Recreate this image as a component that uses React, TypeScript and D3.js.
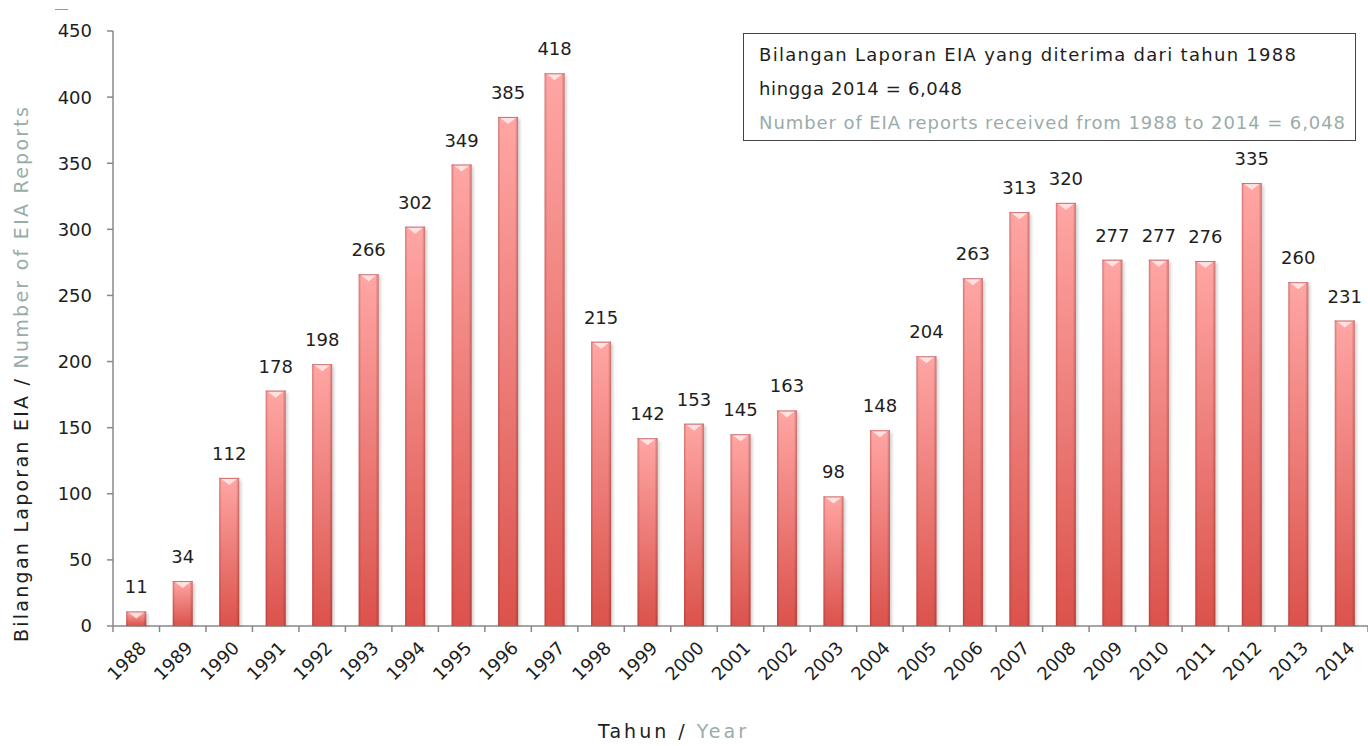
import React, { useEffect, useRef } from "react";
import * as d3 from "d3";

const years = [
  "1988", "1989", "1990", "1991", "1992", "1993", "1994", "1995", "1996",
  "1997", "1998", "1999", "2000", "2001", "2002", "2003", "2004", "2005",
  "2006", "2007", "2008", "2009", "2010", "2011", "2012", "2013", "2014",
];
const reports = [
  11, 34, 112, 178, 198, 266, 302, 349, 385, 418, 215, 142, 153, 145, 163,
  98, 148, 204, 263, 313, 320, 277, 277, 276, 335, 260, 231,
];
const yTicks = [0, 50, 100, 150, 200, 250, 300, 350, 400, 450];

const FONT = "'DejaVu Sans', sans-serif";
const INK = "#1e1e1e";
const GREY = "#9aaca8";

function App() {
  const ref = useRef<SVGSVGElement>(null);

  useEffect(() => {
    const svg = d3.select(ref.current);
    svg.selectAll("*").remove();

    const left = 113;
    const right = 1368;
    const top = 31;
    const bottom = 626;

    const x = d3
      .scaleBand()
      .domain(years)
      .range([left, right])
      .paddingInner(0.57)
      .paddingOuter(0.285);
    const y = d3.scaleLinear().domain([0, 450]).range([bottom, top]);
    const step = x.step();

    const defs = svg.append("defs");
    const grad = defs
      .append("linearGradient")
      .attr("id", "barFill")
      .attr("x1", 0)
      .attr("y1", 0)
      .attr("x2", 0)
      .attr("y2", 1);
    grad.append("stop").attr("offset", "0%").attr("stop-color", "#ffa6a4");
    grad.append("stop").attr("offset", "100%").attr("stop-color", "#db524b");

    const edge = defs
      .append("linearGradient")
      .attr("id", "barEdge")
      .attr("x1", 0)
      .attr("y1", 0)
      .attr("x2", 1)
      .attr("y2", 0);
    edge.append("stop").attr("offset", "0%").attr("stop-color", "#7a1f1c").attr("stop-opacity", 0.35);
    edge.append("stop").attr("offset", "12%").attr("stop-color", "#7a1f1c").attr("stop-opacity", 0);
    edge.append("stop").attr("offset", "85%").attr("stop-color", "#7a1f1c").attr("stop-opacity", 0);
    edge.append("stop").attr("offset", "100%").attr("stop-color", "#7a1f1c").attr("stop-opacity", 0.4);

    const blur = defs.append("filter").attr("id", "shadow").attr("x", "-50%").attr("width", "200%");
    blur.append("feGaussianBlur").attr("stdDeviation", 1.5);

    const txt = (sel: any, size: number) =>
      sel
        .attr("font-size", size)
        .attr("font-family", FONT)
        .attr("fill", INK);

    // little mark top-left
    svg
      .append("line")
      .attr("x1", 55)
      .attr("x2", 68)
      .attr("y1", 9.5)
      .attr("y2", 9.5)
      .attr("stroke", "#999")
      .attr("stroke-width", 1);

    // y axis
    const yAxis = svg.append("g");
    yAxis
      .append("line")
      .attr("x1", left)
      .attr("x2", left)
      .attr("y1", top)
      .attr("y2", bottom)
      .attr("stroke", "#888")
      .attr("stroke-width", 1.5);
    yTicks.forEach((t) => {
      yAxis
        .append("line")
        .attr("x1", left - 6)
        .attr("x2", left)
        .attr("y1", y(t))
        .attr("y2", y(t))
        .attr("stroke", "#888")
        .attr("stroke-width", 1.5);
      txt(
        yAxis
          .append("text")
          .attr("x", left - 21)
          .attr("y", y(t))
          .attr("dy", "0.36em")
          .attr("text-anchor", "end"),
        18
      ).text(t);
    });

    // x axis
    const xAxis = svg.append("g");
    xAxis
      .append("line")
      .attr("x1", left)
      .attr("x2", right)
      .attr("y1", bottom)
      .attr("y2", bottom)
      .attr("stroke", "#888")
      .attr("stroke-width", 1.5);
    d3.range(years.length + 1).forEach((i) => {
      const tx = left + i * step;
      xAxis
        .append("line")
        .attr("x1", tx)
        .attr("x2", tx)
        .attr("y1", bottom)
        .attr("y2", bottom + 6)
        .attr("stroke", "#888")
        .attr("stroke-width", 1.5);
    });
    years.forEach((yr) => {
      const cx = (x(yr) as number) + x.bandwidth() / 2 + 2;
      txt(
        xAxis
          .append("text")
          .attr("transform", `translate(${cx},${bottom + 14}) rotate(-45)`)
          .attr("text-anchor", "end")
          .attr("dy", "0.72em"),
        18
      ).text(yr);
    });

    // bars
    const bars = svg.append("g");
    years.forEach((yr, i) => {
      const bx = x(yr) as number;
      const bw = x.bandwidth();
      const by = y(reports[i]);
      const bh = bottom - by;
      bars
        .append("rect")
        .attr("x", bx + 2)
        .attr("y", by + 2)
        .attr("width", bw)
        .attr("height", bh - 2)
        .attr("fill", "#000")
        .attr("opacity", 0.18)
        .attr("filter", "url(#shadow)");
      bars
        .append("rect")
        .attr("x", bx)
        .attr("y", by)
        .attr("width", bw)
        .attr("height", bh)
        .attr("fill", "url(#barFill)");
      bars
        .append("rect")
        .attr("x", bx)
        .attr("y", by)
        .attr("width", bw)
        .attr("height", bh)
        .attr("fill", "url(#barEdge)");
      // bevel highlight on top
      const bev = Math.min(5, bh / 2);
      bars
        .append("path")
        .attr(
          "d",
          `M${bx + 1},${by} L${bx + bw - 1},${by} L${bx + bw / 2},${by + bev + 2} Z`
        )
        .attr("fill", "#ffe8e6")
        .attr("opacity", 0.9);
      bars
        .append("line")
        .attr("x1", bx)
        .attr("x2", bx + bw)
        .attr("y1", by + 0.5)
        .attr("y2", by + 0.5)
        .attr("stroke", "#c97070")
        .attr("stroke-width", 1);
      txt(
        bars
          .append("text")
          .attr("x", bx + bw / 2)
          .attr("y", by - 18)
          .attr("text-anchor", "middle"),
        18
      ).text(reports[i]);
    });

    // legend box
    const box = svg.append("g");
    box
      .append("rect")
      .attr("x", 743.5)
      .attr("y", 33.5)
      .attr("width", 612)
      .attr("height", 107)
      .attr("fill", "#fff")
      .attr("stroke", "#444")
      .attr("stroke-width", 1);
    const lines: [string, string, number, number][] = [
      ["Bilangan Laporan EIA yang diterima dari tahun 1988", INK, 61, 537],
      ["hingga 2014 = 6,048", INK, 95, 203],
      ["Number of EIA reports received from 1988 to 2014 = 6,048", GREY, 129, 586],
    ];
    lines.forEach(([t, c, ly, len]) => {
      txt(box.append("text").attr("x", 759).attr("y", ly), 18)
        .attr("fill", c)
        .attr("textLength", len)
        .attr("lengthAdjust", "spacing")
        .text(t);
    });

    // axis titles
    const yt = txt(
      svg
        .append("text")
        .attr("transform", `translate(28,374.5) rotate(-90)`)
        .attr("text-anchor", "middle")
        .attr("textLength", 535)
        .attr("lengthAdjust", "spacing"),
      19
    );
    yt.append("tspan").text("Bilangan Laporan EIA / ");
    yt.append("tspan").attr("fill", GREY).text("Number of EIA Reports");

    const xt = txt(
      svg
        .append("text")
        .attr("x", 672)
        .attr("y", 738)
        .attr("text-anchor", "middle")
        .attr("textLength", 148)
        .attr("lengthAdjust", "spacing"),
      19
    );
    xt.append("tspan").text("Tahun / ");
    xt.append("tspan").attr("fill", GREY).text("Year");
  }, []);

  return (
    <div style={{ position: "absolute", left: 0, top: 0 }}>
      <svg ref={ref} width={1368} height={746} style={{ display: "block" }}></svg>
    </div>
  );
}

export default App;
